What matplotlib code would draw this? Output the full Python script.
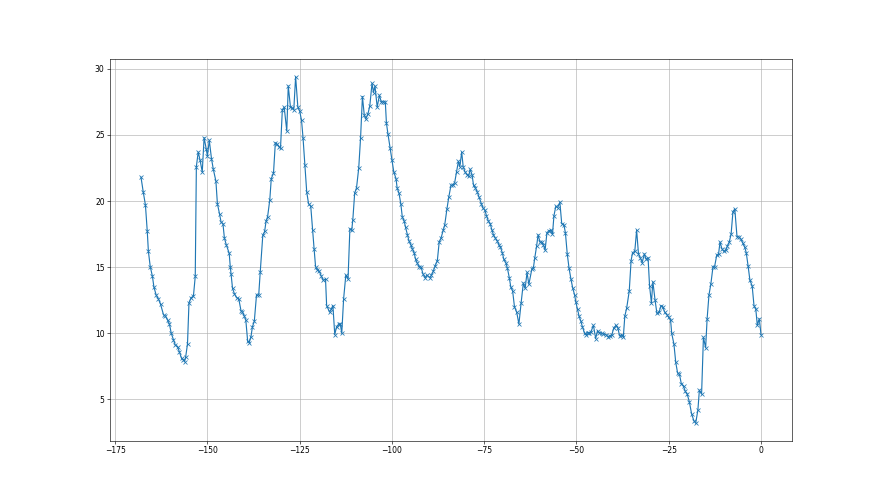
import numpy as np
import matplotlib
matplotlib.use("Agg")
import matplotlib.pyplot as plt

# values
x_vals = [
    -168.0, -167.4, -166.8, -166.3, -166.0, -165.5, -164.9, -164.5, -163.9, -163.3,
    -162.7, -161.9, -161.4, -160.8, -160.3, -159.8, -159.2, -158.7, -158.1, -157.6,
    -157.0, -156.5, -156.2, -155.9, -155.4, -155.0, -154.4, -153.8, -153.3, -153.0,
    -152.5, -152.0, -151.4, -150.9, -150.3, -150.0, -149.5, -148.9, -148.4, -147.7,
    -147.3, -146.7, -146.3, -145.8, -145.4, -144.9,
    -144.1, -143.8, -143.6, -143.2, -142.7, -142.1, -141.5, -140.9, -140.5, -140.0,
    -139.6, -139.1, -138.7, -138.2, -137.8, -137.3, -136.7, -136.1, -135.7, -135.0,
    -134.5, -134.1, -133.7, -133.1, -132.7, -132.1, -131.6, -131.1, -130.6, -130.2,
    -129.7, -129.2, -128.5, -128.1, -127.5, -127.0, -126.6, -126.1, -125.5, -125.0,
    -124.5, -124.1, -123.6, -123.1, -122.6, -122.0, -121.5, -121.1, -120.7, -120.2,
    -119.7, -119.1, -118.6, -118.0, -117.7,
    -116.9, -116.5, -116.0, -115.5, -115.0, -114.4, -114.0, -113.6, -113.1, -112.5,
    -111.9, -111.4, -110.9, -110.6, -110.1, -109.6, -109.0, -108.5, -108.0, -107.5,
    -107.1, -106.5, -106.0, -105.4, -105.0, -104.6, -104.0, -103.4, -102.9, -102.35,
    -101.8, -101.5, -101.1, -100.5, -100.0, -99.5, -98.9, -98.6, -98.1, -97.6,
    -97.2, -96.7, -96.3, -95.8, -95.4, -94.9, -94.5, -94.0, -93.6, -93.1,
    -92.7, -92.1, -91.6, -91.05, -90.5,
    -89.7, -89.3, -88.8, -88.3, -87.7, -87.2, -86.7, -86.1, -85.7, -85.1,
    -84.6, -84.0, -83.5, -83.0, -82.5, -82.0, -81.6, -81.1, -80.7, -80.2,
    -79.6, -79.2, -78.8, -78.3, -77.9, -77.4, -76.9, -76.4, -75.8, -75.4,
    -74.8, -74.4, -73.9, -73.4, -72.9, -72.5, -72.0, -71.5, -71.0, -70.6,
    -70.1, -69.7, -69.1, -68.7, -68.2, -67.8, -67.3, -66.8, -66.2, -65.6,
    -65.0, -64.4, -63.9, -63.4, -62.9,
    -62.1, -61.7, -61.3, -60.8, -60.4, -59.9, -59.4, -59.0, -58.5, -58.0,
    -57.5, -57.0, -56.5, -56.1, -55.6, -55.1, -54.5, -54.0, -53.4, -53.0,
    -52.5, -52.0, -51.5, -51.0, -50.5, -50.2, -49.7, -49.3, -48.8, -48.4,
    -47.8, -47.4, -47.0, -46.5, -46.1, -45.4, -44.8, -44.3, -43.8, -43.2,
    -42.7, -42.0, -41.5, -41.0, -40.4, -39.9, -39.3, -38.8, -38.3, -37.8,
    -37.3, -36.9, -36.4,
    -35.7, -35.2, -34.8, -34.2, -33.7, -33.2, -32.7, -32.2, -31.6, -31.1,
    -30.6, -30.2, -29.7, -29.3, -28.7, -28.2, -27.6, -27.1, -26.6, -26.1,
    -25.5, -25.0, -24.5, -24.2, -23.6, -23.1, -22.6, -22.1, -21.6, -21.0,
    -20.5, -20.0, -19.4, -18.8, -18.2, -17.7, -17.1, -16.7, -16.1, -15.6,
    -15.0, -14.6, -14.1, -13.6, -13.0, -12.6, -12.0, -11.5, -11.1, -10.6,
    -10.1, -9.5, -9.1, -8.6, -8.1, -7.6, -7.1, -6.5, -6.0, -5.4,
    -4.9, -4.4, -4.0, -3.5, -3.0, -2.4, -1.9, -1.4, -1.0, -0.45,
    0.0,
]

y_vals = [
    21.8, 20.7, 19.7, 17.7, 16.2, 15.05, 14.3, 13.5, 12.9, 12.6,
    12.2, 11.4, 11.3, 11.0, 10.7, 10.0, 9.5, 9.1, 9.0, 8.6,
    8.1, 8.0, 7.85, 8.2, 9.2, 12.3, 12.7, 12.8, 14.3, 22.6,
    23.7, 23.1, 22.2, 24.8, 23.9, 23.4, 24.6, 23.2, 22.4, 21.5,
    19.8, 19.0, 18.4, 18.3, 17.2, 16.7,
    16.05, 15.0, 14.5, 13.4, 13.0, 12.7, 12.6, 11.7, 11.6, 11.3,
    11.0, 9.4, 9.3, 9.75, 10.5, 10.9, 12.9, 12.9, 14.6, 17.4,
    17.7, 18.5, 18.8, 20.1, 21.7, 22.1, 24.4, 24.3, 24.1, 24.0,
    26.9, 27.1, 25.3, 28.7, 27.1, 27.05, 26.9, 29.4, 27.1, 26.8,
    26.1, 24.8, 22.7, 20.7, 19.8, 19.6, 17.8, 16.4, 15.05, 14.8,
    14.7, 14.3, 14.0, 14.1, 12.1,
    11.6, 11.8, 12.1, 9.9, 10.5, 10.7, 10.7, 10.0, 12.6, 14.4,
    14.1, 17.9, 17.8, 18.6, 20.6, 21.0, 22.5, 24.8, 27.9, 26.5,
    26.2, 26.6, 27.2, 28.9, 28.2, 28.7, 27.1, 28.0, 27.5, 27.5,
    27.5, 25.9, 25.1, 24.0, 23.1, 22.2, 21.7, 21.0, 20.6, 19.8,
    18.8, 18.5, 18.0, 17.45, 17.0, 16.7, 16.4, 16.1, 15.6, 15.3,
    15.05, 15.0, 14.5, 14.2, 14.4,
    14.2, 14.4, 14.7, 15.1, 15.5, 16.9, 17.2, 17.8, 18.2, 19.4,
    20.3, 21.2, 21.2, 21.4, 22.2, 23.0, 22.6, 23.7, 22.6, 22.2,
    22.0, 21.9, 22.4, 22.0, 21.2, 21.0, 20.7, 20.3, 19.8, 19.5,
    19.3, 18.9, 18.5, 18.3, 17.8, 17.45, 17.2, 17.0, 16.7, 16.5,
    16.1, 15.6, 15.3, 14.9, 14.2, 13.5, 13.2, 12.0, 11.6, 10.7,
    12.3, 13.8, 13.4, 14.6, 13.7,
    14.85, 14.9, 15.7, 16.6, 17.45, 16.9, 16.9, 16.7, 16.3, 17.6,
    17.75, 17.8, 17.5, 18.9, 19.6, 19.5, 19.9, 18.3, 18.2, 17.6,
    16.0, 14.9, 14.1, 13.4, 12.9, 12.4, 11.8, 11.3, 10.9, 10.5,
    10.0, 9.9, 10.05, 10.05, 10.1, 10.6, 9.6, 10.2, 10.05, 10.0,
    9.95, 9.9, 9.75, 9.8, 9.9, 10.4, 10.6, 10.4, 9.8, 9.9,
    9.75, 11.3, 11.9,
    13.2, 15.5, 16.1, 16.2, 17.8, 16.0, 15.7, 15.35, 16.0, 15.6,
    15.7, 13.6, 12.3, 13.9, 12.5, 11.5, 11.6, 12.1, 12.0, 11.6,
    11.4, 11.2, 11.0, 10.0, 9.2, 7.8, 7.0, 6.9, 6.2, 6.0,
    5.6, 5.4, 4.8, 3.9, 3.4, 3.2, 4.2, 5.7, 5.4, 9.7,
    8.9, 11.1, 12.9, 13.7, 15.05, 15.0, 15.9, 16.0, 16.9, 16.4,
    16.2, 16.3, 16.6, 16.9, 17.5, 19.2, 19.4, 17.3, 17.3, 17.1,
    16.8, 16.5, 16.1, 15.1, 14.0, 13.6, 12.1, 11.8, 10.6, 11.1,
    9.9,
]

fig, ax = plt.subplots(figsize=(16, 9), dpi=55)
ax.plot(np.array(x_vals), np.array(y_vals), marker='x', color='tab:blue')
ax.grid(True)

fig.savefig("out.png", dpi=55)
